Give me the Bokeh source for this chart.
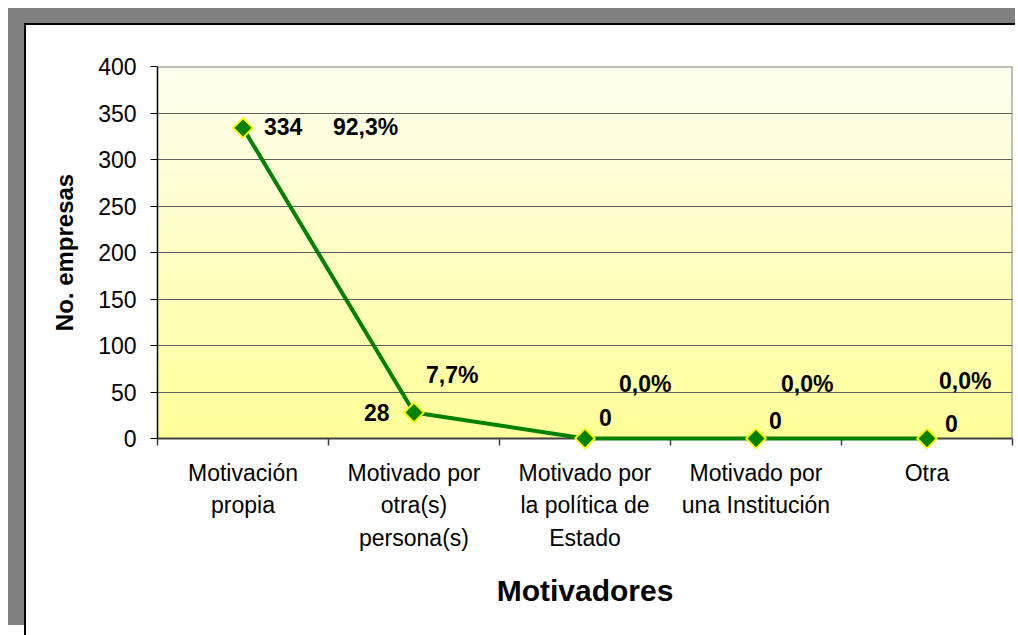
import numpy as np
from bokeh.plotting import figure
from bokeh.models import ColumnDataSource, FixedTicker, Range1d, Span
from bokeh.embed import file_html
from bokeh.resources import INLINE
from bokeh.core.properties import value

# ---------------- data ----------------
categories = [
    "Motivación\npropia",
    "Motivado por\notra(s)\npersona(s)",
    "Motivado por\nla política de\nEstado",
    "Motivado por\nuna Institución",
    "Otra",
]
empresas = [334, 28, 0, 0, 0]
y_ticks = [0, 50, 100, 150, 200, 250, 300, 350, 400]
y_axis_title = "No. empresas"
x_axis_title = "Motivadores"

total = sum(empresas)
pct_labels = [(f"{v / total * 100:.1f}%").replace(".", ",") for v in empresas]
val_labels = [str(v) for v in empresas]

# label placement offsets in screen pixels (layout only)
val_dx = [21, -50, 14, 13, 18]
val_dy = [-1, 0, -21, -18, -15]
pct_dx = [90, 12, 34, 25, 12]
pct_dy = [-1, -37, -55, -55, -58]

# ---------------- figure ----------------
n = len(categories)
xs = list(range(n))
W, H = 1018, 635
FONT = "Liberation Sans"

p = figure(width=W, height=H, output_backend="svg", toolbar_location=None,
           x_range=Range1d(-0.5, n - 0.5), y_range=Range1d(0, y_ticks[-1]),
           min_border_left=157, min_border_right=6, min_border_top=66,
           min_border_bottom=197,
           border_fill_color="white", border_fill_alpha=0,
           background_fill_color="white", outline_line_color=None)

# gray frame (shadow) and black border of the chart box, drawn as host background
p.stylesheets = [""":host {
  background:
    linear-gradient(#000000, #000000) 24px 23px / 991px 2px no-repeat,
    linear-gradient(#000000, #000000) 24px 23px / 2px 612px no-repeat,
    linear-gradient(#808080, #808080) 8px 8px / 1007px 16px no-repeat,
    linear-gradient(#808080, #808080) 8px 8px / 17px 617px no-repeat,
    #ffffff;
}"""]

# gradient plot area
N = 256
t = np.linspace(0, 1, N)
rgba = np.zeros((N, 1, 4), dtype=np.uint8)
rgba[:, 0, 0] = 255
rgba[:, 0, 1] = 255
rgba[:, 0, 2] = np.round(153 + (240 - 153) * t).astype(np.uint8)
rgba[:, 0, 3] = 255
img = rgba.view(np.uint32).reshape(N, 1)
p.image_rgba(image=[img], x=-0.5, y=0, dw=n, dh=y_ticks[-1], level="image")

# grid
p.xgrid.visible = False
p.ygrid.ticker = FixedTicker(ticks=y_ticks)
p.ygrid.grid_line_color = "#606060"
p.ygrid.grid_line_width = 1

# top and right plot borders
p.add_layout(Span(location=y_ticks[-1], dimension="width", line_color="#808080", line_width=2))
p.add_layout(Span(location=n - 0.5, dimension="height", line_color="#808080", line_width=2))

# y axis
p.yaxis.ticker = FixedTicker(ticks=y_ticks)
p.yaxis.axis_line_color = "black"
p.yaxis.axis_line_width = 1.5
p.yaxis.major_tick_out = 7
p.yaxis.major_tick_in = 0
p.yaxis.major_tick_line_color = "black"
p.yaxis.minor_tick_line_color = None
p.yaxis.major_label_standoff = 14
p.yaxis.major_label_text_font = FONT
p.yaxis.major_label_text_font_size = "23px"
p.yaxis.major_label_text_color = "black"
p.yaxis.axis_label = y_axis_title
p.yaxis.axis_label_text_font = FONT
p.yaxis.axis_label_text_font_style = "bold"
p.yaxis.axis_label_text_font_size = "24px"
p.yaxis.axis_label_text_color = "black"
p.yaxis.axis_label_standoff = 17

# x axis (labels at centers, tick marks at category borders)
p.xaxis.ticker = FixedTicker(ticks=xs, minor_ticks=[i - 0.5 for i in range(n + 1)])
p.xaxis.major_label_overrides = {i: c for i, c in zip(xs, categories)}
p.xaxis.axis_line_color = "#404040"
p.xaxis.axis_line_width = 2
p.xaxis.major_tick_out = 0
p.xaxis.major_tick_in = 0
p.xaxis.minor_tick_out = 7
p.xaxis.minor_tick_in = 0
p.xaxis.minor_tick_line_color = "#404040"
p.xaxis.minor_tick_line_width = 1.5
p.xaxis.major_label_standoff = 14
p.xaxis.major_label_text_font = FONT
p.xaxis.major_label_text_font_size = "23px"
p.xaxis.major_label_text_line_height = 1.25
p.xaxis.major_label_text_color = "black"
p.xaxis.axis_label = x_axis_title
p.xaxis.axis_label_text_font = FONT
p.xaxis.axis_label_text_font_style = "bold"
p.xaxis.axis_label_text_font_size = "30px"
p.xaxis.axis_label_text_color = "black"
p.xaxis.axis_label_standoff = 20

# series
src = ColumnDataSource(dict(x=xs, y=empresas, val=val_labels, pct=pct_labels,
                            vdx=val_dx, vdy=val_dy, pdx=pct_dx, pdy=pct_dy))
p.line("x", "y", source=src, line_color="#008000", line_width=4, level="overlay")
p.scatter("x", "y", source=src, marker="square", angle=np.pi / 4, size=14,
          fill_color="#008000", line_color="#FFFF00", line_width=2, level="overlay")

p.text("x", "y", text="val", source=src, x_offset="vdx", y_offset="vdy",
       text_font=value(FONT), text_font_style="bold", text_font_size="23px",
       text_color="black", text_align="left", text_baseline="middle")
p.text("x", "y", text="pct", source=src, x_offset="pdx", y_offset="pdy",
       text_font=value(FONT), text_font_style="bold", text_font_size="23px",
       text_color="black", text_align="left", text_baseline="middle")

open("out.html", "w").write(file_html(p, INLINE))
